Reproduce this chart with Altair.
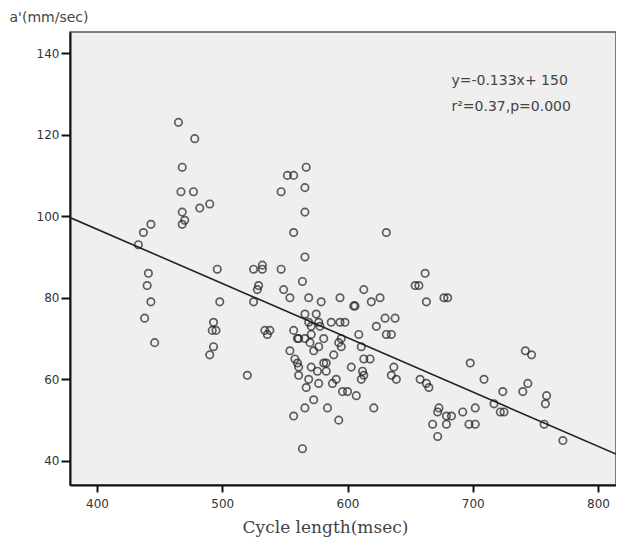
import altair as alt
import pandas as pd

# Scatter data (cycle length in msec, a' in mm/sec)
cycle_length = [
    433, 437, 443, 441, 440, 443, 438, 446,
    465, 478, 468, 467, 477, 482, 490, 468, 470, 468,
    496, 498, 493, 492, 495, 493, 490, 520,
    525, 532, 532, 529, 528, 525,
    547, 547, 552, 557, 567, 566, 566, 557, 566, 564, 549, 554, 569, 579, 594,
    613, 605, 606, 619, 626, 630, 638, 623, 631, 635, 631,
    637, 635, 639, 654, 657, 662, 663, 677, 680,
    566, 575, 569, 577, 587, 594, 598, 571, 578, 609,
    534, 538, 536, 557, 561, 566, 571, 581, 560, 570,
    573, 577, 593, 595, 595, 611, 554, 558, 560, 589, 613, 618,
    561, 571, 581, 583, 603, 612, 613, 576, 583, 561, 569, 577, 588, 591, 611,
    567, 596, 600, 607, 573, 566, 584, 621, 557, 593, 564,
    698, 709, 658, 663, 665, 724, 744, 740, 759, 758, 717, 722, 725, 702, 692,
    673, 672, 679, 683, 668, 679, 697, 702, 672, 757, 772, 742, 747,
]
a_prime = [
    93, 96, 98, 86, 83, 79, 75, 69,
    123, 119, 112, 106, 106, 102, 103, 101, 99, 98,
    87, 79, 74, 72, 72, 68, 66, 61,
    87, 87, 88, 83, 82, 79,
    87, 106, 110, 110, 112, 107, 101, 96, 90, 84, 82, 80, 80, 79, 80,
    82, 78, 78, 79, 80, 75, 75, 73, 71, 71, 96,
    63, 61, 60, 83, 83, 86, 79, 80, 80,
    76, 76, 74, 74, 74, 74, 74, 73, 73, 71,
    72, 72, 71, 72, 70, 70, 71, 70, 70, 69,
    67, 68, 69, 70, 68, 68, 67, 65, 64, 66, 65, 65,
    63, 63, 64, 64, 63, 62, 61, 62, 62, 61, 60, 59, 59, 60, 60,
    58, 57, 57, 56, 55, 53, 53, 53, 51, 50, 43,
    64, 60, 60, 59, 58, 57, 59, 57, 56, 54, 54, 52, 52, 53, 52,
    53, 52, 51, 51, 49, 49, 49, 49, 46, 49, 45, 67, 66,
]

x_ticks = [400, 500, 600, 700, 800]
y_ticks = [40, 60, 80, 100, 120, 140]
x_domain = [378.4, 814.4]
y_domain = [34.1, 145.15]

# Fitted line as stated on the chart: y = -0.133x + 150
slope, intercept = -0.133, 150
fit_x = x_domain
fit_y = [slope * v + intercept for v in fit_x]

annot_text = ["y=-0.133x+ 150", "r\u00b2=0.37,p=0.000"]
annot_x = [683, 683]
annot_y = [133.2, 126.8]

pts = pd.DataFrame({"x": cycle_length, "y": a_prime})
fit = pd.DataFrame({"x": fit_x, "y": fit_y})
ann = pd.DataFrame({"x": annot_x, "y": annot_y, "t": annot_text})

xs = alt.Scale(domain=x_domain, nice=False, zero=False)
ys = alt.Scale(domain=y_domain, nice=False, zero=False)

x_axis = alt.Axis(
    values=x_ticks, title="Cycle length(msec)", grid=False,
    domainColor="#111", domainWidth=2, tickColor="#111", tickWidth=2, tickSize=7,
    labelFont="DejaVu Sans", labelFontSize=12, labelColor="#333", labelPadding=6,
    titleFont="DejaVu Serif", titleFontSize=17, titleFontWeight="normal",
    titleColor="#444", titleAlign="center", titleBaseline="alphabetic",
    titleX=255, titleY=47,
)
y_axis = alt.Axis(
    values=y_ticks, title="a'(mm/sec)", grid=False,
    domainColor="#111", domainWidth=2, tickColor="#111", tickWidth=2, tickSize=9,
    labelFont="DejaVu Sans", labelFontSize=12, labelColor="#333", labelPadding=2,
    titleFont="DejaVu Sans", titleFontSize=14, titleFontWeight="normal",
    titleColor="#444", titleAngle=0, titleAlign="left", titleBaseline="middle",
    titleX=-61, titleY=-15,
)

points = alt.Chart(pts).mark_point(
    shape="circle", filled=False, size=55, strokeWidth=1.7, color="#1e1e1e", clip=True
).encode(
    x=alt.X("x:Q", scale=xs, axis=x_axis),
    y=alt.Y("y:Q", scale=ys, axis=y_axis),
)

line = alt.Chart(fit).mark_line(color="#222", strokeWidth=1.6, clip=True).encode(
    x=alt.X("x:Q", scale=xs),
    y=alt.Y("y:Q", scale=ys),
)

text = alt.Chart(ann).mark_text(
    align="left", baseline="middle", font="DejaVu Sans", fontSize=14, color="#444"
).encode(
    x=alt.X("x:Q", scale=xs),
    y=alt.Y("y:Q", scale=ys),
    text="t:N",
)

chart = alt.layer(line, points, text).properties(
    width=546, height=453,
    autosize=alt.AutoSizeParams(type="none"),
    padding={"left": 62, "top": 24, "right": 0, "bottom": 52},
    background="white",
).configure_view(
    fill="#efefef", stroke="#555", strokeWidth=1.5
)

chart.save("out.html", embed_options={"renderer": "svg", "actions": False})
